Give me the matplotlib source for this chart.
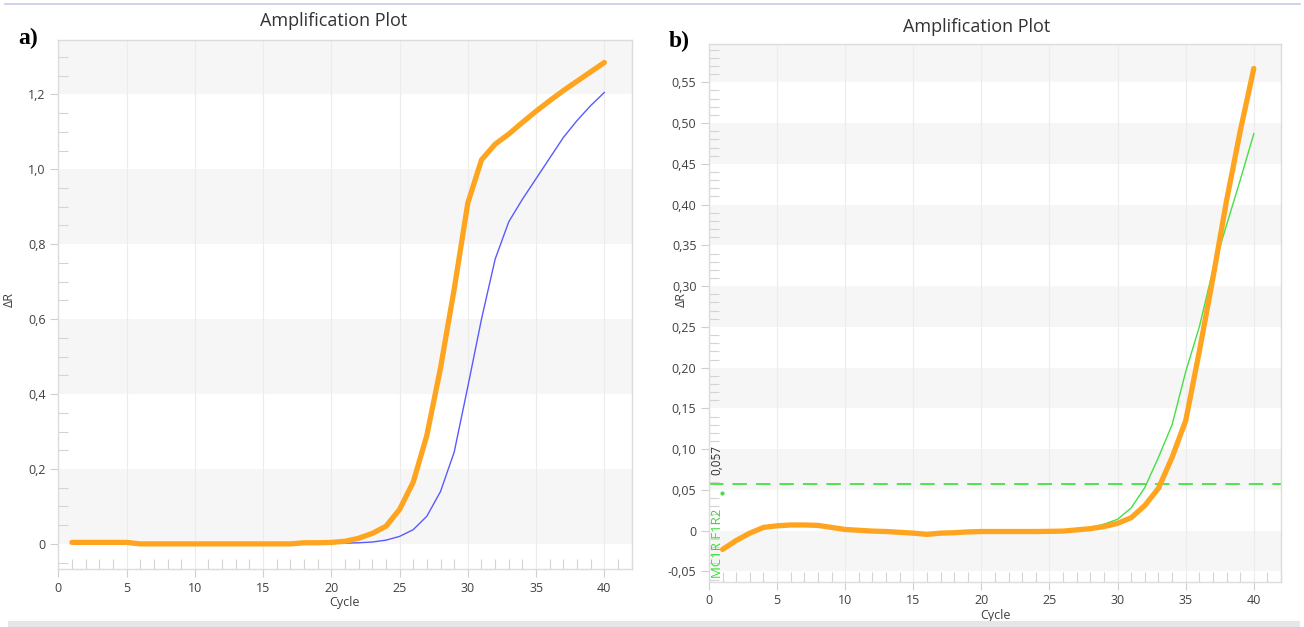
import matplotlib.pyplot as plt
import numpy as np
from matplotlib.ticker import MultipleLocator, FixedLocator

plt.rcParams['font.family'] = ['Open Sans', 'DejaVu Sans']

# ---- data ----
cycles = list(range(1, 41))

# panel a) orange sample and blue sample
a_orange = [0.004, 0.004, 0.004, 0.004, 0.004, 0.0, 0.0, 0.0, 0.0, 0.0,
            0.0, 0.0, 0.0, 0.0, 0.0, 0.0, 0.0, 0.003, 0.003, 0.004,
            0.007, 0.015, 0.028, 0.047, 0.092, 0.165, 0.29, 0.47, 0.68, 0.91,
            1.025, 1.067, 1.094, 1.125, 1.155, 1.183, 1.21, 1.235, 1.26, 1.285]
a_blue = [0.004, 0.004, 0.004, 0.004, 0.004, 0.0, 0.0, 0.0, 0.0, 0.0,
          0.0, 0.0, 0.0, 0.0, 0.0, 0.0, 0.0, 0.002, 0.002, 0.002,
          0.002, 0.003, 0.005, 0.01, 0.02, 0.038, 0.074, 0.14, 0.245, 0.42,
          0.6, 0.76, 0.86, 0.92, 0.975, 1.03, 1.085, 1.13, 1.17, 1.205]

# panel b) orange sample and green sample (MC1R F1R2)
b_orange = [-0.023, -0.012, -0.003, 0.004, 0.006, 0.007, 0.007, 0.0065, 0.004, 0.0015,
            0.0005, -0.0005, -0.001, -0.002, -0.003, -0.0045, -0.003, -0.0025, -0.0015, -0.001,
            -0.001, -0.001, -0.001, -0.001, -0.0008, -0.0005, 0.001, 0.0025, 0.005, 0.009,
            0.016, 0.031, 0.052, 0.09, 0.135, 0.22, 0.31, 0.405, 0.49, 0.567]
b_green = [-0.023, -0.012, -0.003, 0.004, 0.006, 0.007, 0.007, 0.0065, 0.004, 0.0015,
           0.0005, -0.0005, -0.001, -0.002, -0.003, -0.0045, -0.003, -0.0025, -0.0015, -0.001,
           -0.001, -0.001, -0.001, -0.001, -0.0008, -0.0005, 0.002, 0.004, 0.008, 0.014,
           0.028, 0.053, 0.09, 0.13, 0.195, 0.25, 0.32, 0.375, 0.43, 0.487]
threshold = 0.057

a_yticks = [0, 0.2, 0.4, 0.6, 0.8, 1.0, 1.2]
a_yticklabels = ['0', '0,2', '0,4', '0,6', '0,8', '1,0', '1,2']
b_yticks = [-0.05, 0, 0.05, 0.10, 0.15, 0.20, 0.25, 0.30, 0.35, 0.40, 0.45, 0.50, 0.55]
b_yticklabels = ['-0,05', '0', '0,05', '0,10', '0,15', '0,20', '0,25', '0,30',
                 '0,35', '0,40', '0,45', '0,50', '0,55']
xticks = [0, 5, 10, 15, 20, 25, 30, 35, 40]

ORANGE = '#ffa41f'
BLUE = '#5a5aff'
GREEN = '#44e044'
BAND = '#f6f6f6'
EDGE = '#dcdcdc'
TXT = '#404040'

fig = plt.figure(figsize=(13.04, 6.27), dpi=100)
ax_a = fig.add_axes([0.0447, 0.0925, 0.4397, 0.8437])
ax_b = fig.add_axes([0.5437, 0.0722, 0.4387, 0.8576])


def style_axes(ax, ylim, band_edges, yticks, yticklabels, minor_step,
               title_x, title_pad):
    ax.set_xlim(0, 42)
    ax.set_ylim(*ylim)
    for lo, hi in band_edges:
        ax.axhspan(lo, hi, color=BAND, lw=0, zorder=0)
    ax.xaxis.set_major_locator(FixedLocator(xticks))
    ax.xaxis.set_minor_locator(MultipleLocator(1))
    ax.set_xticklabels([str(t) for t in xticks])
    ax.set_yticks(yticks)
    ax.set_yticklabels(yticklabels)
    ax.yaxis.set_minor_locator(MultipleLocator(minor_step))
    ax.grid(axis='x', which='major', color='#ececec', lw=0.8, zorder=0)
    ax.tick_params(axis='both', which='major', direction='out', length=6,
                   color='#cfcfcf', labelsize=9, labelcolor=TXT, pad=3)
    ax.tick_params(axis='both', which='minor', direction='in', length=7,
                   color='#d4d4d4', width=0.8)
    for s in ax.spines.values():
        s.set_color(EDGE)
        s.set_linewidth(1.0)
    ax.set_xlabel('Cycle', fontsize=9, color=TXT, labelpad=1)
    ax.set_ylabel('ΔR', fontsize=9, color=TXT)
    ax.set_title('Amplification Plot', fontsize=13, color='#333333',
                 pad=title_pad, x=title_x)


# panel a
style_axes(ax_a, (-0.067, 1.345),
           [(0, 0.2), (0.4, 0.6), (0.8, 1.0), (1.2, 1.345)],
           a_yticks, a_yticklabels, 0.05, 0.48, 10)
ax_a.plot(cycles, a_blue, color=BLUE, lw=1.0, zorder=3)
ax_a.plot(cycles, a_orange, color=ORANGE, lw=3.8, zorder=4,
          solid_capstyle='round', solid_joinstyle='round')
ax_a.yaxis.set_label_coords(-0.074, 0.51)

# panel b
style_axes(ax_b, (-0.0626, 0.597),
           [(-0.05, 0), (0.05, 0.10), (0.15, 0.20), (0.25, 0.30),
            (0.35, 0.40), (0.45, 0.50), (0.55, 0.597)],
           b_yticks, b_yticklabels, 0.01, 0.467, 9)
ax_b.axhline(threshold, color=GREEN, lw=1.3, ls=(0, (8, 5)), zorder=2)
ax_b.plot(cycles, b_green, color=GREEN, lw=1.0, zorder=3)
ax_b.plot(cycles, b_orange, color=ORANGE, lw=3.8, zorder=4,
          solid_capstyle='round', solid_joinstyle='round')
ax_b.text(0.6, 0.087, '0,057', rotation=90, fontsize=8.5, color='#333333',
          ha='center', va='center', zorder=5)
ax_b.plot([0.96], [0.046], marker='o', ms=2, color=GREEN, zorder=5)
ax_b.text(0.62, -0.016, 'MC1R F1R2', rotation=90, fontsize=9.5, color='#33dd33',
          ha='center', va='center', zorder=5)
ax_b.yaxis.set_label_coords(-0.037, 0.524)

# panel letters
fig.text(0.014, 0.93, 'a)', fontsize=17, fontweight='bold',
         family='Liberation Serif', color='black')
fig.text(0.5125, 0.925, 'b)', fontsize=17, fontweight='bold',
         family='Liberation Serif', color='black')

# frame lines from the screenshot
fig.add_artist(plt.Line2D([0.004, 0.997], [0.993, 0.993], color='#c5cde6', lw=1.2))
fig.add_artist(plt.Rectangle((0.006, 0.0), 0.991, 0.009, color='#e6e6e6', lw=0))

fig.savefig('out.png', dpi=100)
